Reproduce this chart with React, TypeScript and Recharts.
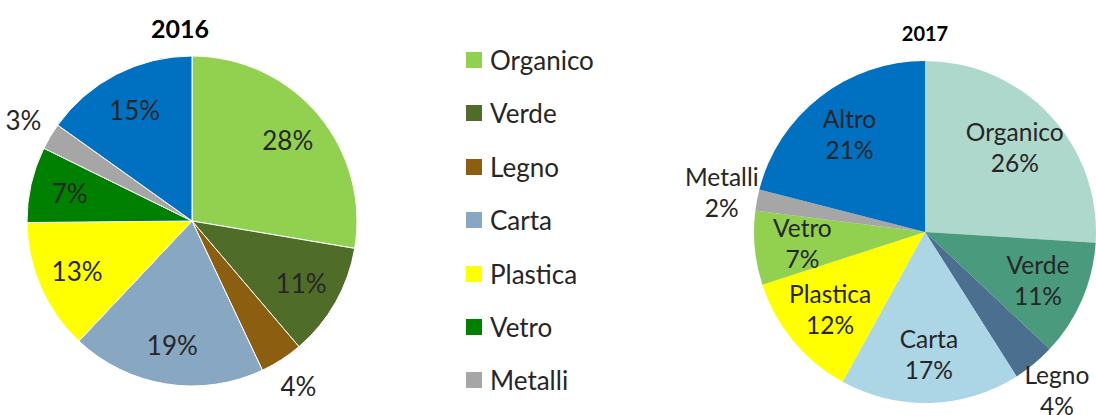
import React from "react";
import { PieChart, Pie, Cell } from "recharts";

const LEGEND_NAMES = ["Organico", "Verde", "Legno", "Carta", "Plastica", "Vetro", "Metalli"];

const NAMES_2016 = ["Organico", "Verde", "Legno", "Carta", "Plastica", "Vetro", "Metalli", "Altro"];
const VALUES_2016 = [27.6, 11.1, 4.2, 19.0, 12.8, 7.4, 2.6, 15.1];
const COLORS_2016 = ["#92d050", "#4f6d28", "#8c5e0f", "#87a7c3", "#ffff00", "#008000", "#a6a6a6", "#0070c0"];

const NAMES_2017 = ["Organico", "Verde", "Legno", "Carta", "Plastica", "Vetro", "Metalli", "Altro"];
const VALUES_2017 = [26, 11, 4, 17, 12, 7, 2, 21];
const COLORS_2017 = ["#aed8cb", "#4a9a7e", "#4a6f8f", "#acd5e6", "#ffff00", "#92d050", "#a6a6a6", "#0070c0"];

const data2016 = NAMES_2016.map((name, i) => ({ name, value: VALUES_2016[i] }));
const data2017 = NAMES_2017.map((name, i) => ({ name, value: VALUES_2017[i] }));

const FONT = "Lato, 'Open Sans', sans-serif";
const TEXT = "#262626";
const RAD = Math.PI / 180;

const label2016 = (p: any) => {
	const { cx, cy, midAngle, outerRadius, percent } = p;
	const r = percent < 0.05 ? outerRadius * 1.19 : outerRadius * 0.76;
	const x = cx + r * Math.cos(-midAngle * RAD);
	const y = cy + r * Math.sin(-midAngle * RAD);
	return (
		<text x={x} y={y} fill={TEXT} fontSize={26} fontFamily={FONT} textAnchor="middle" dominantBaseline="central">
			{`${Math.round(percent * 100)}%`}
		</text>
	);
};

const label2017 = (p: any) => {
	const { cx, cy, midAngle, outerRadius, percent, name } = p;
	const r = percent < 0.05 ? outerRadius * 1.21 : outerRadius * 0.72;
	const x = cx + r * Math.cos(-midAngle * RAD);
	const y = cy + r * Math.sin(-midAngle * RAD);
	return (
		<text x={x} y={y} fill={TEXT} fontSize={24.5} fontFamily={FONT} textAnchor="middle">
			<tspan x={x} dy={-7}>{name}</tspan>
			<tspan x={x} dy={31}>{`${Math.round(percent * 100)}%`}</tspan>
		</text>
	);
};

export default function App() {
	return (
		<div style={{ position: "absolute", left: 0, top: 0, width: 1096, height: 415, background: "#fff", fontFamily: FONT }}>
			<PieChart width={1096} height={415} margin={{ top: 0, right: 0, bottom: 0, left: 0 }}>
				<Pie
					data={data2016}
					dataKey="value"
					nameKey="name"
					cx={192}
					cy={221}
					outerRadius={165}
					startAngle={90}
					endAngle={-270}
					stroke="#ffffff"
					strokeWidth={1}
					label={label2016}
					labelLine={false}
					isAnimationActive={false}
				>
					{data2016.map((_, i) => (
						<Cell key={`a-${i}`} fill={COLORS_2016[i]} />
					))}
				</Pie>
				<Pie
					data={data2017}
					dataKey="value"
					nameKey="name"
					cx={925}
					cy={232}
					outerRadius={171}
					startAngle={90}
					endAngle={-270}
					stroke="none"
					label={label2017}
					labelLine={false}
					isAnimationActive={false}
				>
					{data2017.map((_, i) => (
						<Cell key={`b-${i}`} fill={COLORS_2017[i]} />
					))}
				</Pie>
			</PieChart>
			<div style={{ position: "absolute", left: 140, top: 13, width: 80, textAlign: "center", fontWeight: 700, fontSize: 25, color: "#000" }}>
				2016
			</div>
			<div style={{ position: "absolute", left: 885, top: 21, width: 80, textAlign: "center", fontWeight: 700, fontSize: 20, color: "#000" }}>
				2017
			</div>
			{LEGEND_NAMES.map((name, i) => (
				<div
					key={name}
					style={{ position: "absolute", left: 466, top: 43 + i * 53.4, height: 34, display: "flex", alignItems: "center", fontSize: 26, color: TEXT }}
				>
					<span style={{ display: "inline-block", width: 16, height: 16, background: COLORS_2016[i], marginRight: 8 }} />
					{name}
				</div>
			))}
		</div>
	);
}
